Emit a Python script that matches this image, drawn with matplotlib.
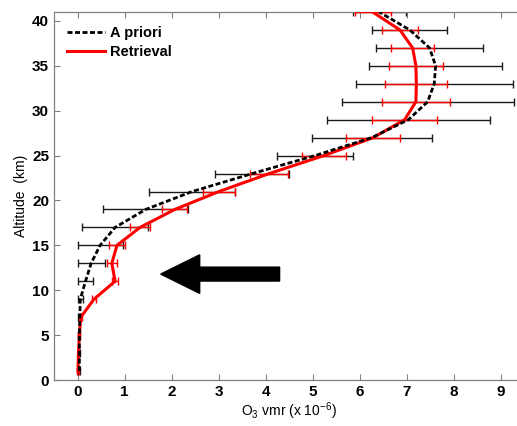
import numpy as np
import matplotlib
matplotlib.use("Agg")
import matplotlib.pyplot as plt
from matplotlib.patches import FancyArrow

plt.rcParams['font.family'] = ['Liberation Sans', 'DejaVu Sans']
plt.rcParams['mathtext.fontset'] = 'custom'
plt.rcParams['mathtext.rm'] = 'Liberation Sans'
plt.rcParams['mathtext.it'] = 'Liberation Sans:italic'
plt.rcParams['mathtext.bf'] = 'Liberation Sans:bold'

# Altitude grid (km)
altitude = [1, 3, 5, 7, 9, 11, 13, 15, 17, 19, 21, 23, 25, 27, 29, 31, 33, 35, 37, 39, 41]

# A priori O3 vmr (x 1e-6) and its error
apriori = [0.04, 0.04, 0.04, 0.05, 0.06, 0.17, 0.29, 0.48, 0.80, 1.45, 2.44, 3.72,
           5.05, 6.26, 7.04, 7.45, 7.59, 7.62, 7.49, 7.07, 6.42]
apriori_err = [0.02, 0.02, 0.02, 0.03, 0.06, 0.17, 0.29, 0.48, 0.71, 0.90, 0.92, 0.79,
               0.81, 1.28, 1.73, 1.83, 1.67, 1.42, 1.14, 0.80, 0.56]

# Retrieved O3 vmr and its error
retrieval = [0.01, 0.02, 0.04, 0.07, 0.35, 0.80, 0.73, 0.84, 1.33, 2.07, 3.01, 4.08,
             5.24, 6.29, 6.96, 7.20, 7.21, 7.20, 7.13, 6.86, 6.28]
retrieval_err = [0.02, 0.02, 0.02, 0.02, 0.05, 0.06, 0.11, 0.16, 0.21, 0.27, 0.34, 0.40,
                 0.47, 0.57, 0.69, 0.73, 0.66, 0.58, 0.45, 0.38, 0.38]

fig = plt.figure(figsize=(5.17, 4.26), dpi=100)
ax = fig.add_axes([54/517, 46/426, 470/517, 368/426])

ax.errorbar(apriori, altitude, xerr=apriori_err, fmt='none', ecolor='#1a1a1a',
            elinewidth=1.0, capsize=2.6, capthick=1.0, zorder=2)
ax.errorbar(retrieval, altitude, xerr=retrieval_err, fmt='none', ecolor='red',
            elinewidth=1.0, capsize=2.6, capthick=1.0, zorder=3)
ax.plot(apriori, altitude, color='black', lw=2.0, ls=(0, (1.8, 0.9)),
        label='A priori', zorder=5)
ax.plot(retrieval, altitude, color='red', lw=2.2, label='Retrieval', zorder=4)

# big arrow pointing at the lower stratosphere
ax.add_patch(FancyArrow(4.3, 11.8, -2.53, 0, width=1.55, head_width=4.3,
                        head_length=0.83, length_includes_head=True,
                        color='black', zorder=6))

ax.set_xlim(-0.5, 9.5)
ax.set_ylim(0, 41)
ax.set_xticks(range(0, 10))
ax.set_yticks(range(0, 41, 5))
for lab in ax.get_xticklabels() + ax.get_yticklabels():
    lab.set_fontweight('bold')
    lab.set_fontsize(11)
ax.tick_params(direction='in', top=True, right=True, length=4, width=0.8,
               color='#808080', pad=3.5)
for sp in ax.spines.values():
    sp.set_color('#808080')
    sp.set_linewidth(0.9)

ax.set_xlabel('O$_3$ vmr (x 10$^{-6}$)', fontsize=10, labelpad=1)
ax.set_ylabel('Altitude  (km)', fontsize=10, labelpad=3)

ax.legend(loc='upper left', bbox_to_anchor=(0.027, 0.962), frameon=False,
          prop={'weight': 'bold', 'size': 10.5}, handlelength=2.6,
          handletextpad=0.4, labelspacing=0.35, borderpad=0, borderaxespad=0)

fig.savefig('out.png', dpi=100)
